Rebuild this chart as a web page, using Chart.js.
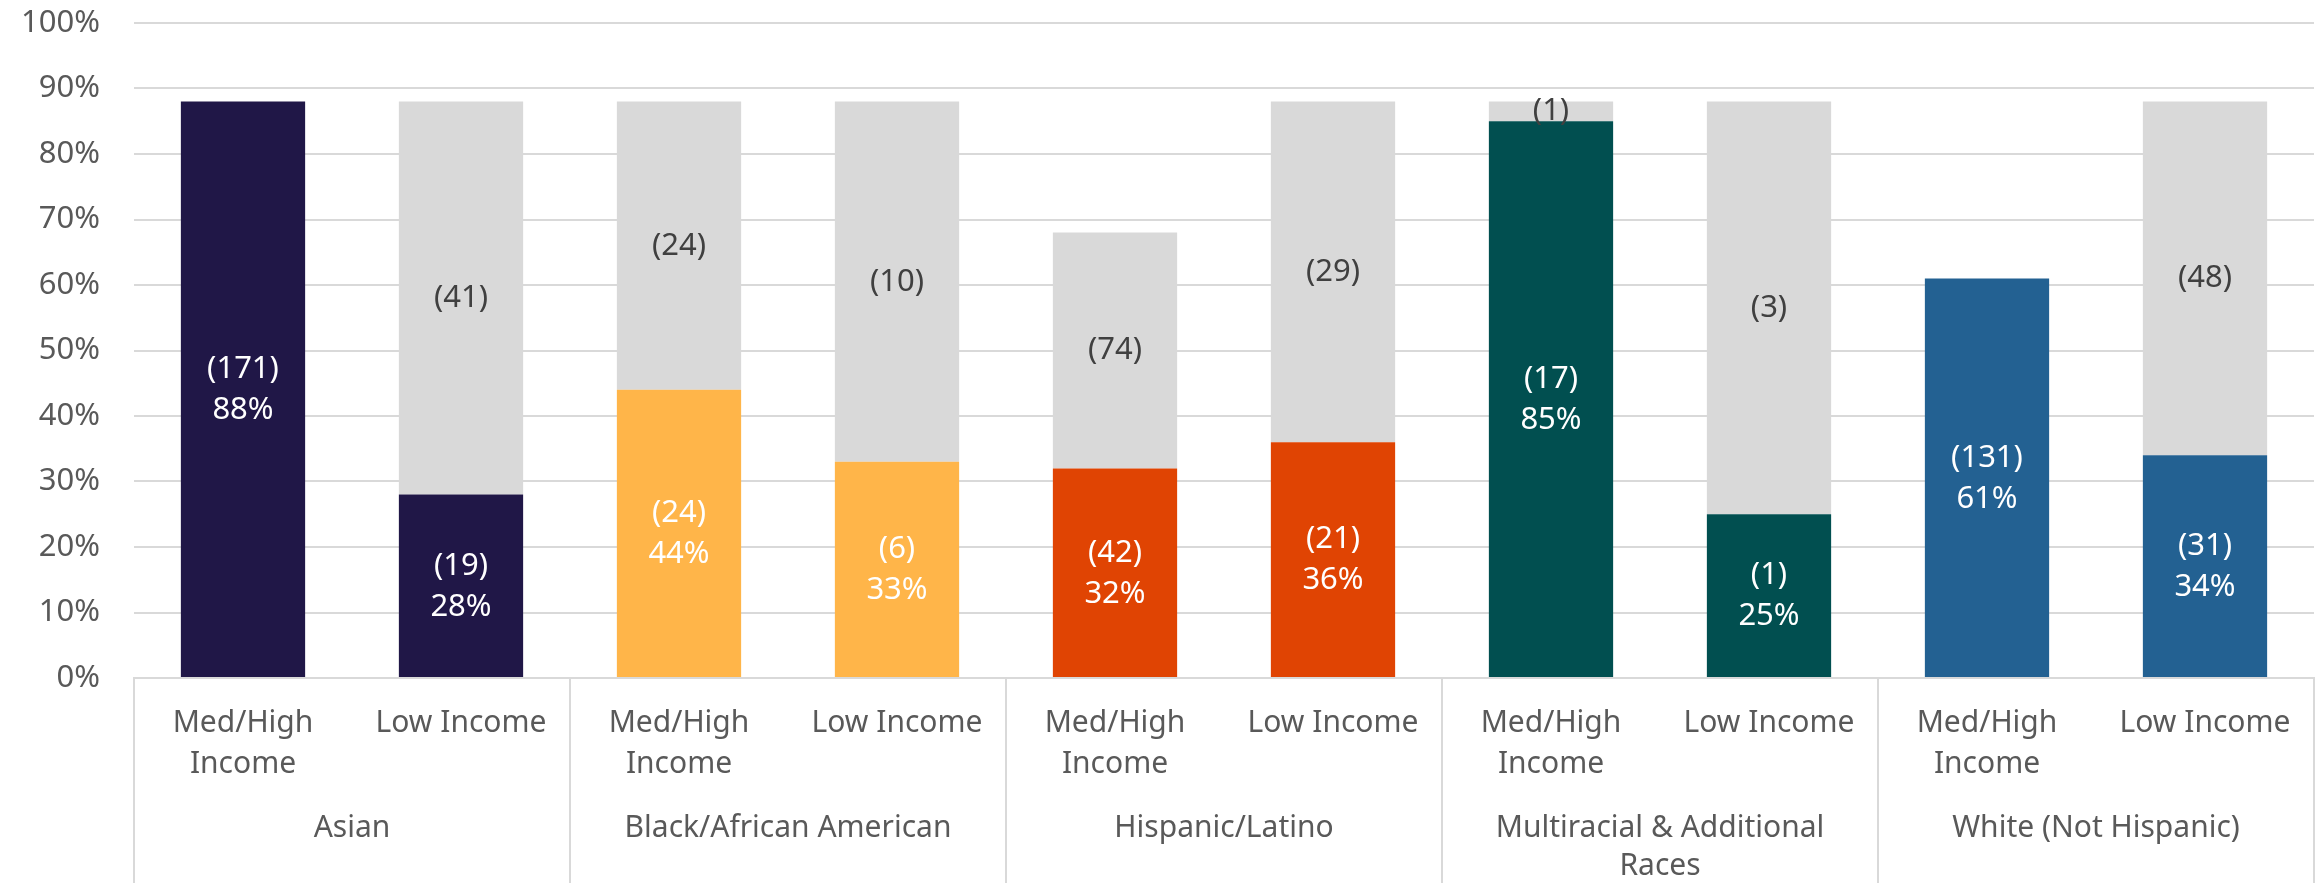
<!DOCTYPE html>
<html>
<head>
<meta charset="utf-8">
<script src="https://cdn.jsdelivr.net/npm/chart.js@4.4.1/dist/chart.umd.min.js"></script>
<style>
  body { margin: 0; background: #fff; }
  #wrap { width: 2318px; height: 883px; }
</style>
</head>
<body>
<div id="wrap"><canvas id="myChart"></canvas></div>
<script>
// bar labels (inner level) and race groups (outer level)
const categories = [
  ["Med/High", "Income"], "Low Income",
  ["Med/High", "Income"], "Low Income",
  ["Med/High", "Income"], "Low Income",
  ["Med/High", "Income"], "Low Income",
  ["Med/High", "Income"], "Low Income"
];
const groups = [
  "Asian",
  "Black/African American",
  "Hispanic/Latino",
  ["Multiracial & Additional", "Races"],
  "White (Not Hispanic)"
];

// coloured part: percent and count
const pctValues = [88, 28, 44, 33, 32, 36, 85, 25, 61, 34];
const countValues = [171, 19, 24, 6, 42, 21, 17, 1, 131, 31];
// grey remainder: percent and count
const restValues = [0, 60, 44, 55, 36, 52, 3, 63, 0, 54];
const restCounts = [null, 41, 24, 10, 74, 29, 1, 3, null, 48];

const barColors = [
  "#201747", "#201747",
  "#FFB549", "#FFB549",
  "#E04403", "#E04403",
  "#014F50", "#014F50",
  "#236192", "#236192"
];

const yTicks = [0, 10, 20, 30, 40, 50, 60, 70, 80, 90, 100];

const FONT = "'Noto Sans', sans-serif";
const LINE_COLOR = "#D9D9D9";

// writes the (n) and % labels in the middle of each segment
const segmentLabels = {
  id: "segmentLabels",
  afterDatasetsDraw(chart) {
    const ctx = chart.ctx;
    ctx.save();
    ctx.font = "31px " + FONT;
    ctx.textAlign = "center";
    ctx.textBaseline = "middle";

    chart.getDatasetMeta(0).data.forEach((bar, i) => {
      const mid = (bar.y + bar.base) / 2;
      ctx.fillStyle = "#ffffff";
      ctx.fillText("(" + countValues[i] + ")", bar.x, mid - 20);
      ctx.fillText(pctValues[i] + "%", bar.x, mid + 21);
    });

    chart.getDatasetMeta(1).data.forEach((bar, i) => {
      if (restCounts[i] === null) return;
      const mid = (bar.y + bar.base) / 2;
      ctx.fillStyle = "#404040";
      ctx.fillText("(" + restCounts[i] + ")", bar.x, mid);
    });
    ctx.restore();
  }
};

// vertical lines between race groups under the axis
const groupLines = {
  id: "groupLines",
  afterDraw(chart) {
    const x = chart.scales.x;
    const ctx = chart.ctx;
    ctx.save();
    ctx.strokeStyle = LINE_COLOR;
    ctx.lineWidth = 2;
    for (let k = 0; k <= groups.length; k++) {
      const px = Math.round(x.getPixelForValue(2 * k - 0.5));
      ctx.beginPath();
      ctx.moveTo(px, chart.chartArea.bottom);
      ctx.lineTo(px, chart.height);
      ctx.stroke();
    }
    ctx.restore();
  }
};

function main() {
  const ctx = document.getElementById("myChart").getContext("2d");
  new Chart(ctx, {
    type: "bar",
    data: {
      labels: categories,
      datasets: [
        {
          data: pctValues,
          backgroundColor: barColors,
          barPercentage: 0.57,
          categoryPercentage: 1
        },
        {
          data: restValues,
          backgroundColor: LINE_COLOR,
          barPercentage: 0.57,
          categoryPercentage: 1
        }
      ]
    },
    options: {
      responsive: true,
      maintainAspectRatio: false,
      animation: false,
      layout: { padding: { top: 0, right: 4, left: 0, bottom: 0 } },
      plugins: {
        legend: { display: false },
        tooltip: { enabled: false }
      },
      scales: {
        x: {
          stacked: true,
          afterFit: (scale) => {
            scale.height = 106;
          },
          grid: { display: false, drawTicks: false },
          border: { display: true, color: LINE_COLOR, width: 2 },
          ticks: {
            color: "#595959",
            font: { family: FONT, size: 30, lineHeight: 1.37 },
            padding: 25,
            maxRotation: 0,
            autoSkip: false
          }
        },
        x2: {
          type: "category",
          position: "bottom",
          labels: groups,
          offset: true,
          afterFit: (scale) => {
            scale.height = 99;
          },
          grid: { display: false, drawTicks: false },
          border: { display: false },
          ticks: {
            color: "#595959",
            font: { family: FONT, size: 30, lineHeight: 1.27 },
            padding: 25,
            maxRotation: 0,
            autoSkip: false
          }
        },
        y: {
          stacked: true,
          min: 0,
          max: 100,
          afterBuildTicks: (scale) => {
            scale.ticks = yTicks.map((v) => ({ value: v }));
          },
          afterFit: (scale) => {
            scale.width = 134;
            // keep the tick padding from pushing the plot down
            scale.paddingTop = 23;
          },
          grid: { color: LINE_COLOR, lineWidth: 2, drawTicks: false },
          border: { display: false },
          ticks: {
            color: "#595959",
            font: { family: FONT, size: 31 },
            padding: 34,
            callback: (v) => v + "%"
          }
        }
      }
    },
    plugins: [segmentLabels, groupLines]
  });
}

document.addEventListener("DOMContentLoaded", main);
</script>
</body>
</html>
